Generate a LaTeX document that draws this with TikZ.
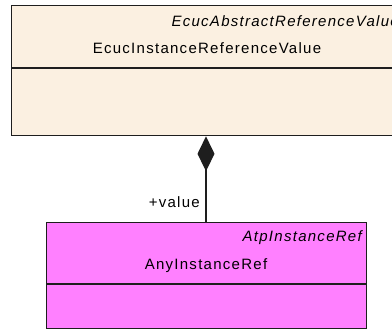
\documentclass[tikz,border=0pt]{standalone}
\usepackage{fontspec}
\setmainfont{Liberation Sans}[LetterSpace=8.5]
\usepackage{tikz}
\usetikzlibrary{arrows.meta}
\definecolor{ecucfill}{HTML}{FBF0E1}
\definecolor{atpfill}{HTML}{FF80FF}
\definecolor{umlline}{HTML}{1E1E1E}
\tikzset{
	classbox/.style={draw=umlline,line width=1.3pt,anchor=north west,inner sep=0pt},
	classtext/.style={inner sep=0pt,font=\fontsize{15}{18}\selectfont},
	composition/.style={draw=umlline,line width=1.3pt,{Diamond[length=35pt,width=17pt]}-}
}

\begin{document}
\begin{tikzpicture}[x=1pt,y=1pt]
	\useasboundingbox (0,0) rectangle (392,329);
	%
	%  CLASSES
	%
	\node[classbox,fill=ecucfill,minimum width=392pt,minimum height=130pt] (1) at (11,324) {};
	\node[classbox,fill=atpfill,minimum width=320pt,minimum height=106pt] (2) at (46,107) {};
	\draw[umlline,line width=1.3pt] (1.west |- 0,261) -- (1.east |- 0,261);
	\draw[umlline,line width=1.3pt] (2.west |- 0,45) -- (2.east |- 0,45);
	%
	%  NAMES
	%
	\node[classtext,anchor=base east,font=\fontsize{15}{18}\selectfont\itshape] (3) at (399,302) {EcucAbstractReferenceValue};
	\node[classtext,anchor=base] (4) at (207,275) {EcucInstanceReferenceValue};
	\node[classtext,anchor=base east,font=\fontsize{15}{18}\selectfont\itshape] (5) at (362,87) {AtpInstanceRef};
	\node[classtext,anchor=base] (6) at (206,59) {AnyInstanceRef};
	%
	%  COMPOSITION
	%
	\draw[composition] (1.south -| 206,0) -- (2.north -| 206,0);
	\node[classtext,anchor=base east] (7) at (200,121) {+value};
\end{tikzpicture}
\end{document}
